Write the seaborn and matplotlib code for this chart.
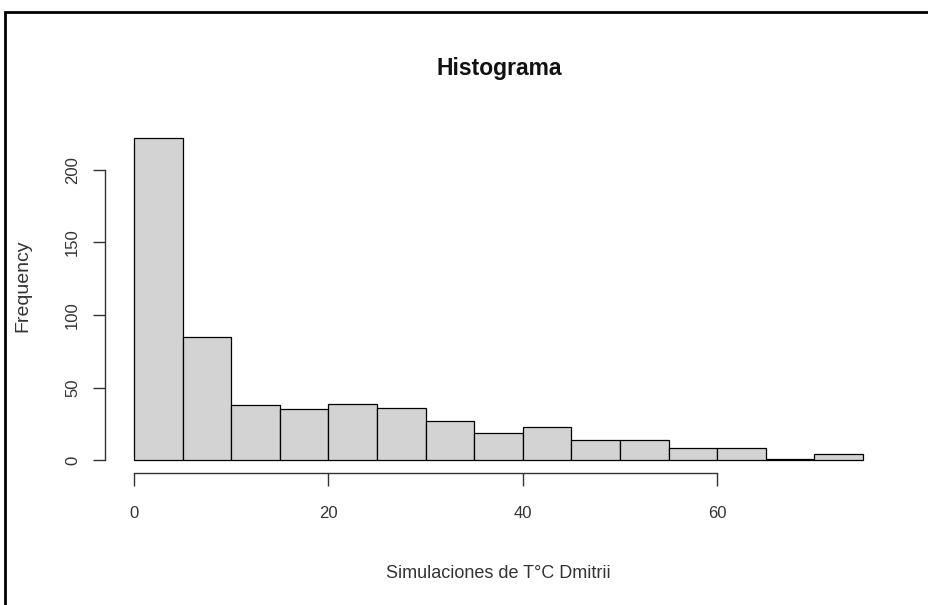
import numpy as np
import matplotlib
matplotlib.use("Agg")
import matplotlib.pyplot as plt
import seaborn as sns
from matplotlib.patches import Rectangle

# bin edges (width 5) and counts
bin_edges = list(range(0, 80, 5))
counts = [222, 85, 38, 35, 39, 36, 27, 19, 23, 14, 14, 8, 8, 1, 4]
x_ticks = [0, 20, 40, 60]
y_ticks = [0, 50, 100, 150, 200]

bin_mids = [e + 2.5 for e in bin_edges[:-1]]

sns.set_style("white")
plt.rcParams['font.family'] = ['Liberation Sans', 'DejaVu Sans']

fig = plt.figure(figsize=(9.29, 6.05), dpi=100)
ax = fig.add_axes([105/929, 1-473/605, (892-105)/929, (473-125)/605])

sns.histplot(x=bin_mids, weights=counts, bins=bin_edges, color="#d3d3d3",
             edgecolor="black", linewidth=0.9, alpha=1, ax=ax)

ax.set_xlim(-3, 78)
ax.set_ylim(-222*0.04, 222*1.04)
ax.set_xticks(x_ticks)
ax.set_yticks(y_ticks)
ax.set_xlabel("")
ax.set_ylabel("")

sns.despine(ax=ax)
ax.spines['bottom'].set_bounds(0, 60)
ax.spines['left'].set_bounds(0, 200)
for s in ['bottom', 'left']:
    ax.spines[s].set_color("#333333")
    ax.spines[s].set_linewidth(1.0)
ax.tick_params(axis='both', direction='out', length=9, width=1.0,
               bottom=True, left=True,
               color="#333333", labelsize=12, labelcolor="#333333")
ax.tick_params(axis='x', pad=15)
ax.tick_params(axis='y', pad=9)
for lab in ax.get_yticklabels():
    lab.set_rotation(90)
    lab.set_va('center')

fig.text(499/929, 1-69/605, "Histograma", ha='center', va='center',
         fontsize=16.5, fontweight='bold', color="#111111")
fig.text(498/929, 1-573/605, "Simulaciones de T°C Dmitrii", ha='center',
         va='center', fontsize=13, color="#333333")
fig.text(23/929, 1-286/605, "Frequency", ha='center', va='center',
         rotation=90, fontsize=14, color="#333333")

# outer frame of the original screenshot
fig.patches.append(Rectangle((5/929, -0.05), 1.0, 1.05-12/605,
                             transform=fig.transFigure, fill=False,
                             edgecolor="black", linewidth=2, clip_on=False))

fig.savefig("out.png", dpi=100)
